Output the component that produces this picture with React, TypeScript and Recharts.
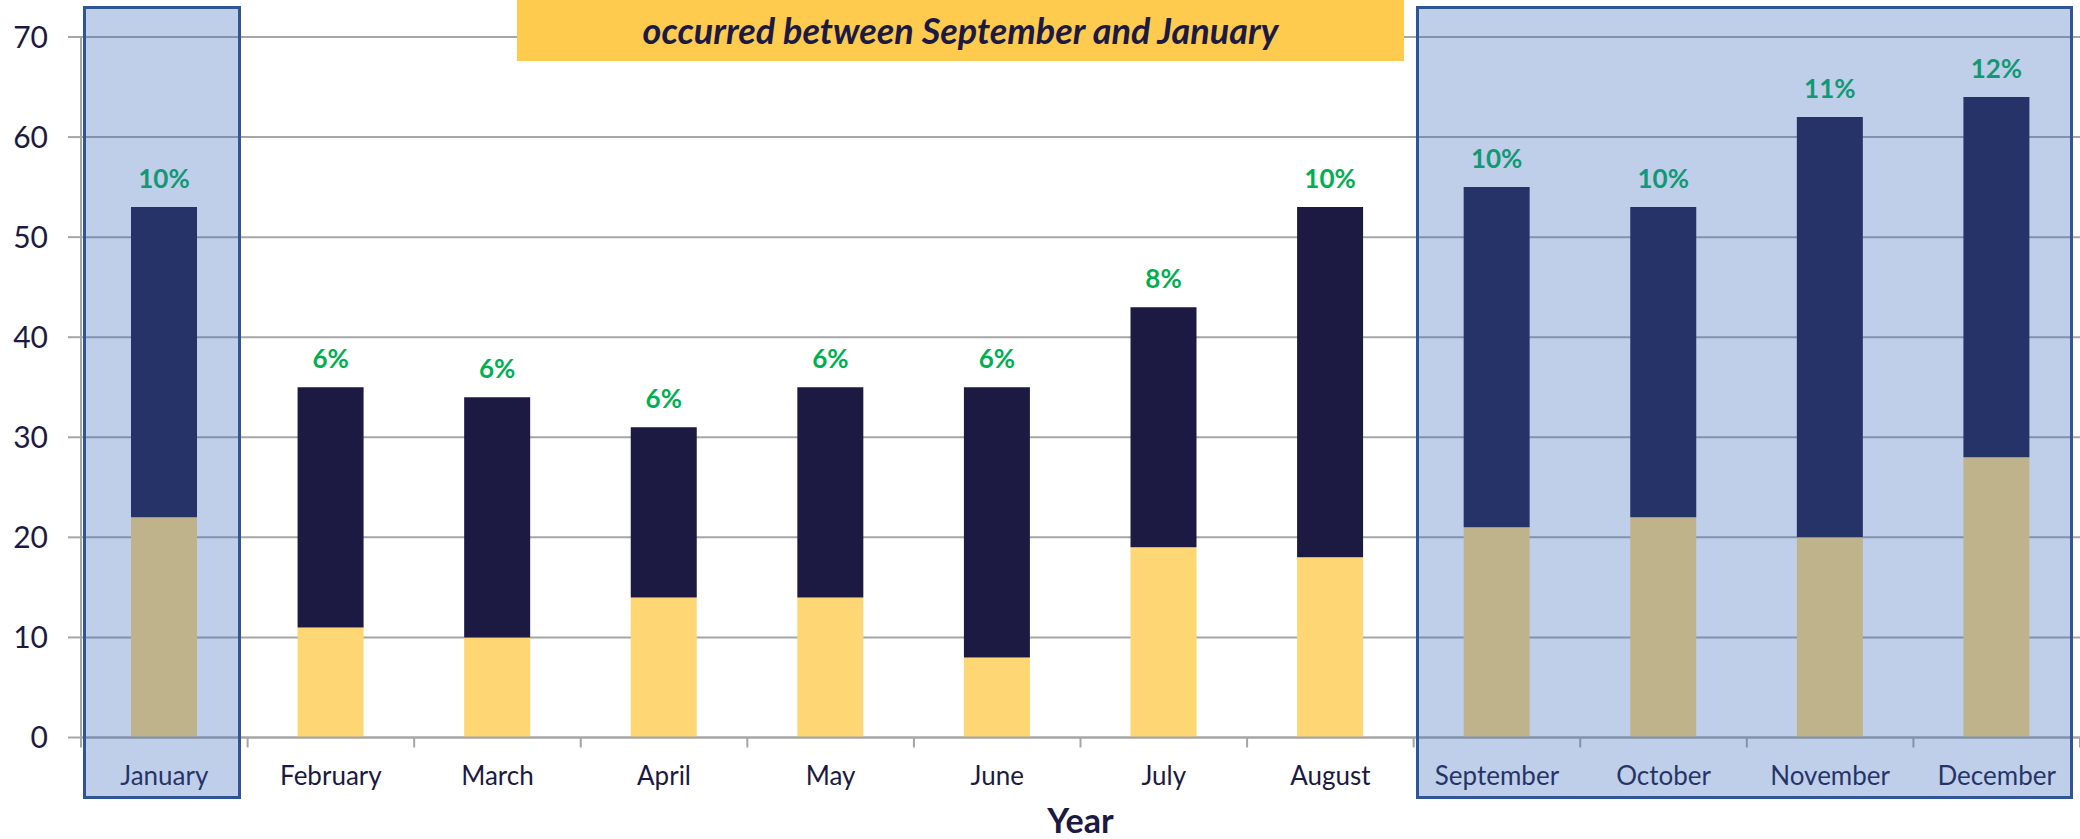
import { BarChart, Bar, XAxis, YAxis, CartesianGrid, LabelList } from "recharts";

const months = [
  "January",
  "February",
  "March",
  "April",
  "May",
  "June",
  "July",
  "August",
  "September",
  "October",
  "November",
  "December",
];
const lowerCounts = [22, 11, 10, 14, 14, 8, 19, 18, 21, 22, 20, 28];
const upperCounts = [31, 24, 24, 17, 21, 27, 24, 35, 34, 31, 42, 36];
const shareLabels = ["10%", "6%", "6%", "6%", "6%", "6%", "8%", "10%", "10%", "10%", "11%", "12%"];
const yTicks = [0, 10, 20, 30, 40, 50, 60, 70];
// month index ranges that get the blue highlight box
const highlightRanges: [number, number][] = [
  [0, 0],
  [8, 11],
];
const titleText = "occurred between September and January";

const W = 2080;
const H = 839;
const PLOT_LEFT = 81;
const PLOT_RIGHT = 2080;
const BAND = (PLOT_RIGHT - PLOT_LEFT) / months.length;

const INK = "#1C1A42";
const GRID = "#A6A6A6";
const FONT = "Lato, 'Open Sans', sans-serif";

const rows = months.map((month, i) => ({
  month,
  lower: lowerCounts[i],
  upper: upperCounts[i],
  share: shareLabels[i],
}));

// month label plus the small tick marks sitting on the band edges (Excel style)
function MonthTick(props: any) {
  const { x, y, payload, index } = props;
  const half = BAND / 2;
  return (
    <g>
      <line x1={x - half} x2={x - half} y1={y} y2={y + 10} stroke={GRID} strokeWidth={2} />
      {index === months.length - 1 && (
        <line x1={x + half} x2={x + half} y1={y} y2={y + 10} stroke={GRID} strokeWidth={2} />
      )}
      <text x={x} y={y + 29} dy="0.71em" textAnchor="middle" fill={INK} fontSize={26} fontFamily={FONT}>
        {payload.value}
      </text>
    </g>
  );
}

export default function App() {
  return (
    <div style={{ position: "absolute", left: 0, top: 0, width: W, height: H, background: "#fff", fontFamily: FONT }}>
      <BarChart
        width={W}
        height={H}
        data={rows}
        margin={{ top: 37, right: 0, left: 0, bottom: 0 }}
        style={{ fontFamily: FONT }}
      >
        <CartesianGrid vertical={false} stroke={GRID} strokeWidth={2} />
        <XAxis
          dataKey="month"
          interval={0}
          height={101.5}
          axisLine={{ stroke: GRID, strokeWidth: 2 }}
          tickLine={false}
          tickSize={0}
          tickMargin={0}
          tick={<MonthTick />}
          label={{
            value: "Year",
            position: "insideBottom",
            offset: 6,
            fill: INK,
            fontSize: 34,
            fontWeight: 700,
            fontFamily: FONT,
          }}
        />
        <YAxis
          width={81}
          domain={[0, 70]}
          ticks={yTicks}
          tickSize={13}
          tickMargin={20}
          axisLine={{ stroke: GRID, strokeWidth: 2 }}
          tickLine={{ stroke: GRID, strokeWidth: 2 }}
          tick={{ fill: INK, fontSize: 30, fontFamily: FONT }}
        />
        <Bar dataKey="lower" stackId="a" fill="#FED674" barSize={66} isAnimationActive={false} />
        <Bar dataKey="upper" stackId="a" fill={INK} barSize={66} isAnimationActive={false}>
          <LabelList
            dataKey="share"
            position="top"
            offset={19}
            fill="#00B050"
            fontSize={26}
            fontWeight={700}
            fontFamily={FONT}
          />
        </Bar>
      </BarChart>

      <div
        style={{
          position: "absolute",
          left: 517,
          top: 0,
          width: 887,
          height: 61,
          background: "#FFCB4E",
          color: INK,
          fontFamily: FONT,
          fontWeight: 700,
          fontStyle: "italic",
          fontSize: 36,
          lineHeight: "61px",
          textAlign: "center",
        }}
      >
        {titleText}
      </div>

      {highlightRanges.map(([from, to]) => {
        const left = PLOT_LEFT + from * BAND + 2;
        const right = PLOT_LEFT + (to + 1) * BAND - 7;
        return (
          <div
            key={from}
            style={{
              position: "absolute",
              left,
              top: 6,
              width: right - left,
              height: 793,
              boxSizing: "border-box",
              background: "rgba(57, 107, 190, 0.32)",
              border: "3px solid #2F5597",
              pointerEvents: "none",
            }}
          />
        );
      })}
    </div>
  );
}
